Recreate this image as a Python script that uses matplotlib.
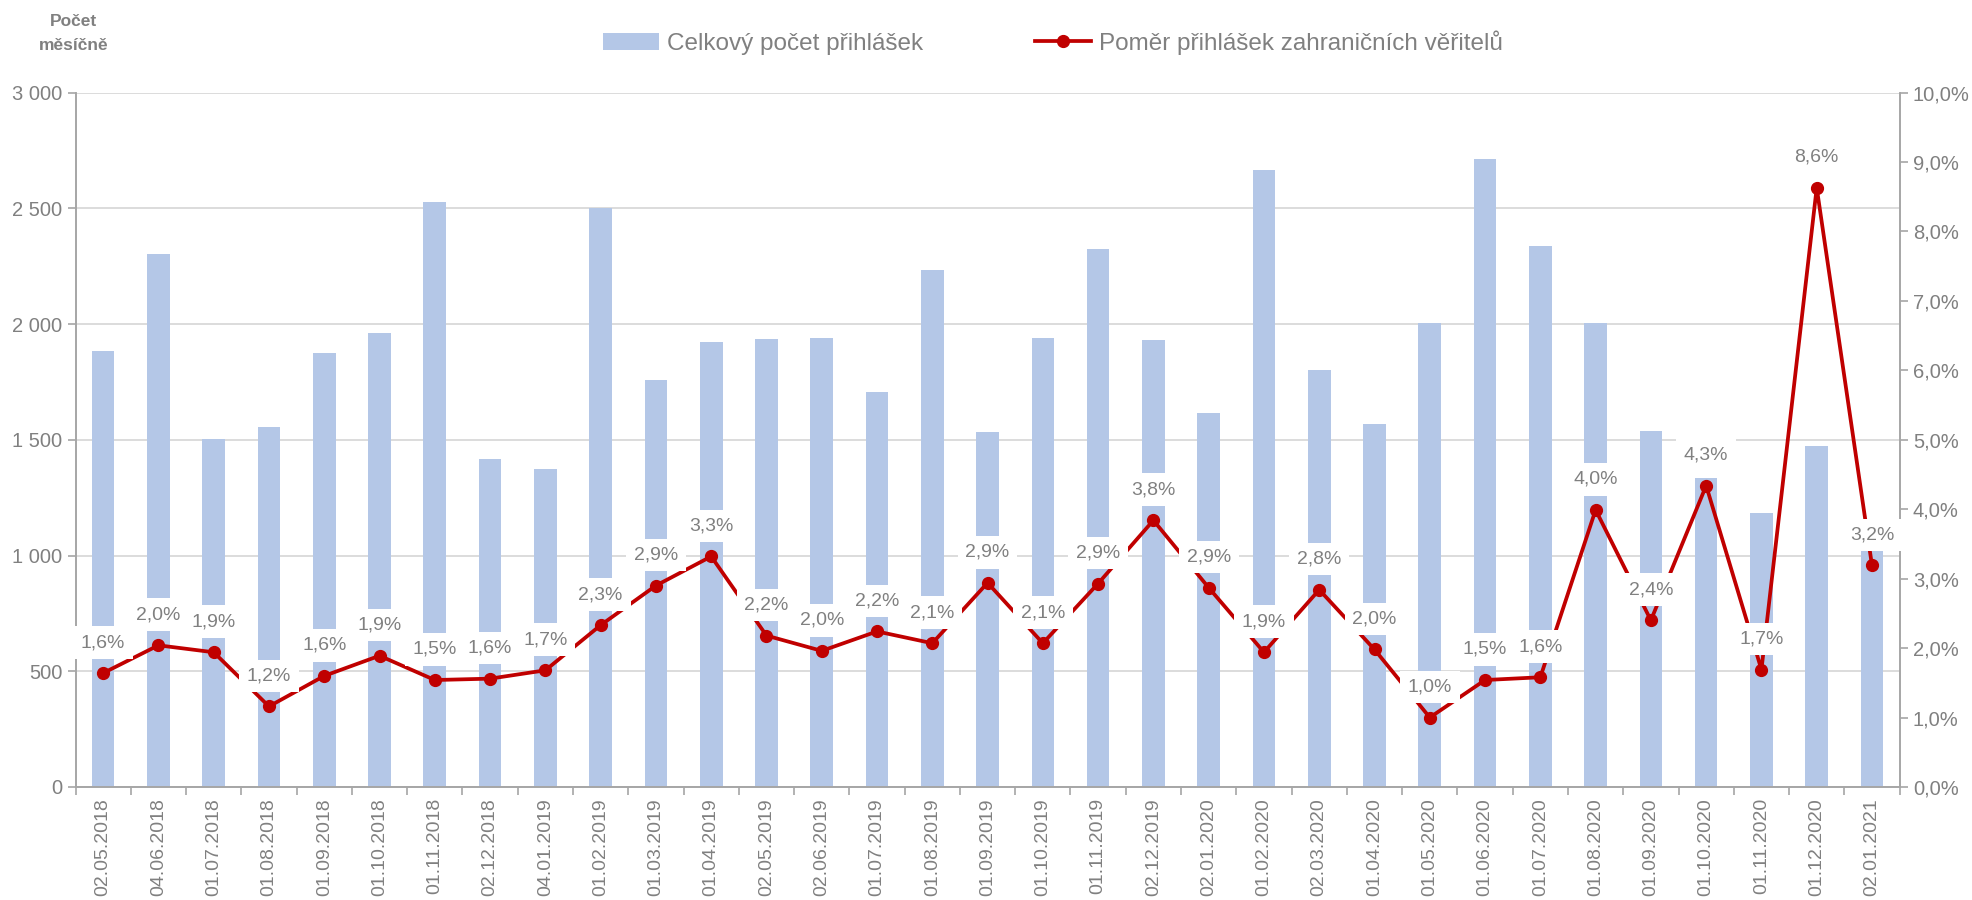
import numpy as np
import matplotlib
matplotlib.use("Agg")
from matplotlib import pyplot as plt
from matplotlib.ticker import FuncFormatter, FixedLocator
from matplotlib.patches import Patch
from matplotlib.lines import Line2D

plt.rcParams["font.family"] = ["Liberation Sans", "DejaVu Sans"]

dates = [
    "02.05.2018", "04.06.2018", "01.07.2018", "01.08.2018", "01.09.2018",
    "01.10.2018", "01.11.2018", "02.12.2018", "04.01.2019", "01.02.2019",
    "01.03.2019", "01.04.2019", "02.05.2019", "02.06.2019", "01.07.2019",
    "01.08.2019", "01.09.2019", "01.10.2019", "01.11.2019", "02.12.2019",
    "02.01.2020", "01.02.2020", "02.03.2020", "01.04.2020", "01.05.2020",
    "01.06.2020", "01.07.2020", "01.08.2020", "01.09.2020", "01.10.2020",
    "01.11.2020", "01.12.2020", "02.01.2021",
]
total_claims = [
    1884, 2301, 1502, 1556, 1873, 1962, 2526, 1419, 1374, 2500,
    1757, 1924, 1935, 1941, 1708, 2233, 1532, 1941, 2323, 1930,
    1614, 2667, 1801, 1569, 2005, 2713, 2339, 2005, 1538, 1334,
    1185, 1473, 1020,
]
foreign_share = [
    1.64, 2.04, 1.94, 1.16, 1.60, 1.89, 1.54, 1.56, 1.68, 2.33,
    2.90, 3.32, 2.18, 1.96, 2.24, 2.07, 2.94, 2.07, 2.93, 3.84,
    2.87, 1.94, 2.84, 1.98, 1.00, 1.54, 1.58, 3.99, 2.40, 4.34,
    1.69, 8.63, 3.19,
]

bar_color = "#B4C7E7"
line_color = "#C00000"
text_gray = "#808080"
axis_gray = "#A6A6A6"

fig = plt.figure(figsize=(19.72, 9), dpi=100)
ax = fig.add_axes([0.0383, 0.1256, 0.925, 0.7715])
ax2 = ax.twinx()

x = np.arange(len(dates))
ax.bar(x, total_claims, width=0.41, color=bar_color, zorder=2)
ax.set_ylim(0, 3000)
ax.set_xlim(-0.5, len(dates) - 0.5)
ax.set_yticks(np.arange(0, 3001, 500))
ax.yaxis.set_major_formatter(FuncFormatter(lambda v, p: f"{int(v):,}".replace(",", " ")))
ax.grid(axis="y", color="#D9D9D9", linewidth=1.3, zorder=0)
ax.set_axisbelow(True)

ax.set_xticks(x)
ax.set_xticklabels(dates, rotation=90)
ax.xaxis.set_minor_locator(FixedLocator(np.arange(-0.5, len(dates), 1.0)))
ax.tick_params(axis="x", which="major", length=0, pad=8, labelsize=14, labelcolor=text_gray)
ax.tick_params(axis="x", which="minor", length=6, color=axis_gray, width=1.2)
ax.tick_params(axis="y", length=6, color=axis_gray, width=1.2, labelsize=14.5, labelcolor=text_gray)

ax2.plot(x, foreign_share, color=line_color, linewidth=2.7, marker="o",
         markersize=8.5, zorder=3)
ax2.set_ylim(0, 10)
ax2.set_yticks(np.arange(0, 10.1, 1))
ax2.yaxis.set_major_formatter(FuncFormatter(lambda v, p: f"{v:.1f}%".replace(".", ",")))
ax2.tick_params(axis="y", length=6, color=axis_gray, width=1.2, labelsize=14.5, labelcolor=text_gray)

for xi, v in zip(x, foreign_share):
    ax2.annotate(f"{v:.1f}%".replace(".", ","), (xi, v), xytext=(0, 22),
                 textcoords="offset points", ha="center", va="center",
                 fontsize=14, color=text_gray, zorder=5,
                 bbox=dict(boxstyle="square,pad=0.4", fc="white", ec="none"))

for a in (ax, ax2):
    a.spines["top"].set_visible(False)
    for s in ("left", "right", "bottom"):
        a.spines[s].set_color(axis_gray)
        a.spines[s].set_linewidth(1.2)

fig.text(0.0375, 0.985, "Počet\nměsíčně", ha="center", va="top", fontsize=12.5,
         fontweight="bold", color=text_gray, linespacing=1.75)

handles = [
    Patch(facecolor=bar_color, edgecolor="none"),
    Line2D([0], [0], color=line_color, linewidth=2.7, marker="o", markersize=8.5),
]
fig.legend(handles, ["Celkový počet přihlášek", "Poměr přihlášek zahraničních věřitelů"],
           loc="center", bbox_to_anchor=(0.534, 0.953), ncol=2, frameon=False,
           fontsize=17.5, labelcolor=text_gray, columnspacing=4.6, handlelength=2.3,
           handletextpad=0.35)

fig.savefig("out.png", dpi=100)
